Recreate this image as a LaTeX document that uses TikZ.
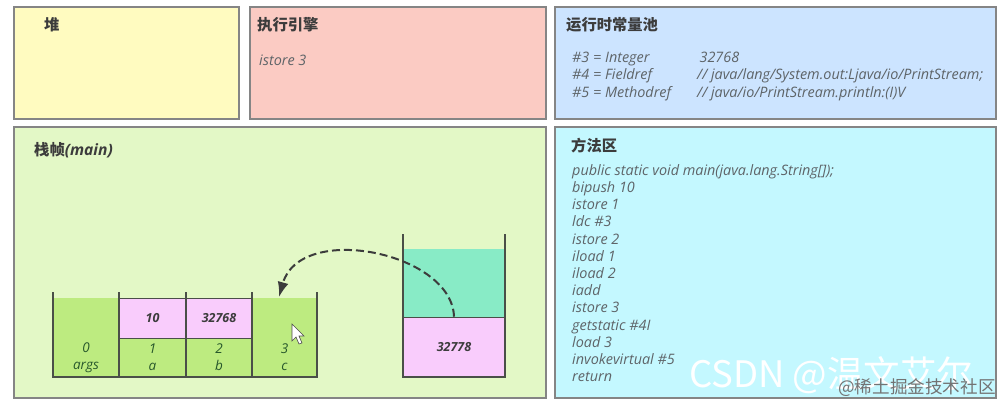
\documentclass[tikz,border=0pt]{standalone}
\usepackage{fontspec}
\setmainfont{Open Sans}
\newfontfamily\cjkfont[AutoFakeSlant=0.22]{Noto Sans CJK SC}
\newfontfamily\markfont{Noto Sans CJK SC}
\usetikzlibrary{arrows.meta}
\definecolor{heapfill}{HTML}{FFFBC0}
\definecolor{enginefill}{HTML}{FBCBC3}
\definecolor{poolfill}{HTML}{CCE4FF}
\definecolor{framefill}{HTML}{E3F8C6}
\definecolor{methodfill}{HTML}{C4F8FF}
\definecolor{slotfill}{HTML}{BDEB80}
\definecolor{pinkfill}{HTML}{F9CCFC}
\definecolor{tealfill}{HTML}{88EBC6}
\definecolor{edgegray}{HTML}{858585}
\definecolor{textgray}{HTML}{5E6468}
\definecolor{headgray}{HTML}{3C3C3C}
\definecolor{wallgray}{HTML}{4A4F48}
\begin{document}
\begin{tikzpicture}[x=1pt,y=-1pt]
\tikzstyle{every node}+=[inner sep=0pt]
\tikzstyle{panel}=[draw=edgegray,line width=1.3pt,rectangle]
\tikzstyle{heading}=[anchor=west,text=headgray,font=\fontsize{15.3}{18}\cjkfont\bfseries]
\tikzstyle{body}=[anchor=west,text=textgray,align=left,font=\fontsize{14.4}{17.2}\selectfont\itshape]
\tikzstyle{slot}=[rectangle,fill=slotfill]
\tikzstyle{value}=[rectangle,fill=pinkfill,draw=wallgray,line width=0.6pt,text=headgray,font=\fontsize{12.5}{14}\selectfont\itshape\bfseries]
\tikzstyle{index}=[align=center,text=textgray!70!green!60!black,font=\fontsize{13.5}{17}\selectfont\itshape]
\useasboundingbox (0,0) rectangle (1004,405);
% panels
\node (heap) at (126.5,63) [panel,fill=heapfill,minimum width=225pt,minimum height=112pt] {};
\node (engine) at (398,63) [panel,fill=enginefill,minimum width=296pt,minimum height=112pt] {};
\node (pool) at (775.5,63) [panel,fill=poolfill,minimum width=441pt,minimum height=112pt] {};
\node (frame) at (280,262.5) [panel,fill=framefill,minimum width=532pt,minimum height=271pt] {};
\node (method) at (775.5,262.5) [panel,fill=methodfill,minimum width=441pt,minimum height=271pt] {};
% panel texts
\node (heaptitle) at (44,25) [heading] {堆};
\node (enginetitle) at (257,25) [heading] {执行引擎};
\node (enginetext) at (259,60) [body] {istore 3};
\node (pooltitle) at (566,25) [heading] {运行时常量池};
\node (poolnames) at (572,76.5) [body] {\#3 = Integer\\\#4 = Fieldref\\\#5 = Methodref};
\node (poolvalues) at (697,76.5) [body] {\,32768\\// java/lang/System.out:Ljava/io/PrintStream;\\// java/io/PrintStream.println:(I)V};
\node (frametitle) at (34,150) [heading] {栈帧{\fontspec{Open Sans}\bfseries\itshape\fontsize{15.6}{18}\selectfont(main)}};
\node (methodtitle) at (571,146) [heading] {方法区};
\node (methodtext) at (572,273) [body] {public static void main(java.lang.String[]);\\bipush 10\\istore 1\\ldc \#3\\istore 2\\iload 1\\iload 2\\iadd\\istore 3\\getstatic \#4I\\load 3\\invokevirtual \#5\\return};
% local variable slots
\node (slotargs) at (86,337.5) [slot,minimum width=66pt,minimum height=79pt] {};
\node (slota) at (152.5,357.5) [slot,minimum width=67pt,minimum height=39pt] {};
\node (slotb) at (219,357.5) [slot,minimum width=66pt,minimum height=39pt] {};
\node (slotc) at (284.5,337.5) [slot,minimum width=65pt,minimum height=79pt] {};
\node (vala) at (152.5,318) [value,minimum width=67pt,minimum height=40pt] {10};
\node (valb) at (219,318) [value,minimum width=66pt,minimum height=40pt] {32768};
\node at (86,357.5) [index] (idxargs) {0\\args};
\node at (152.5,357.5) [index] (idxa) {1\\a};
\node at (219,357.5) [index] (idxb) {2\\b};
\node at (284.5,357.5) [index] (idxc) {3\\c};
\draw [wallgray,line width=1.5pt] (53,292) -- (53,377) -- (317,377) -- (317,292);
\draw [wallgray,line width=1.5pt] (119,292) -- (119,377);
\draw [wallgray,line width=1.5pt] (186,292) -- (186,377);
\draw [wallgray,line width=1.5pt] (252,292) -- (252,377);
% operand stack
\node (stackfree) at (454,283) [rectangle,fill=tealfill,minimum width=102pt,minimum height=68pt] {};
\node (stacktop) at (454,347) [value,minimum width=102pt,minimum height=60pt] {32778};
\draw [wallgray,line width=1.5pt] (403,234) -- (403,377) -- (505,377) -- (505,234);
% store arrow
\coordinate (slotin) at (279,297);
\draw [headgray,line width=2pt,dash pattern=on 8pt off 4pt,-{Latex[length=15pt,width=11pt]}] (stacktop.north) .. controls (452,252) and (300,222) .. (slotin);
% cursor
\node (cursor) at (298,334) {\tikz[x=1pt,y=-1pt]\draw [black!70,fill=white,line width=0.6pt] (0,0) -- (0,17) -- (4,13) -- (7,20) -- (10,19) -- (7,12) -- (12,12) -- cycle;};
% watermarks
\node (markcsdn) at (689,375) [anchor=west,text=white,font=\fontsize{36.5}{40}\markfont] {CSDN @温文艾尔};
\node (markjuejin) at (838,388) [anchor=west,text=black!55,font=\fontsize{17.6}{18}\markfont] {@稀土掘金技术社区};
\end{tikzpicture}
\end{document}
